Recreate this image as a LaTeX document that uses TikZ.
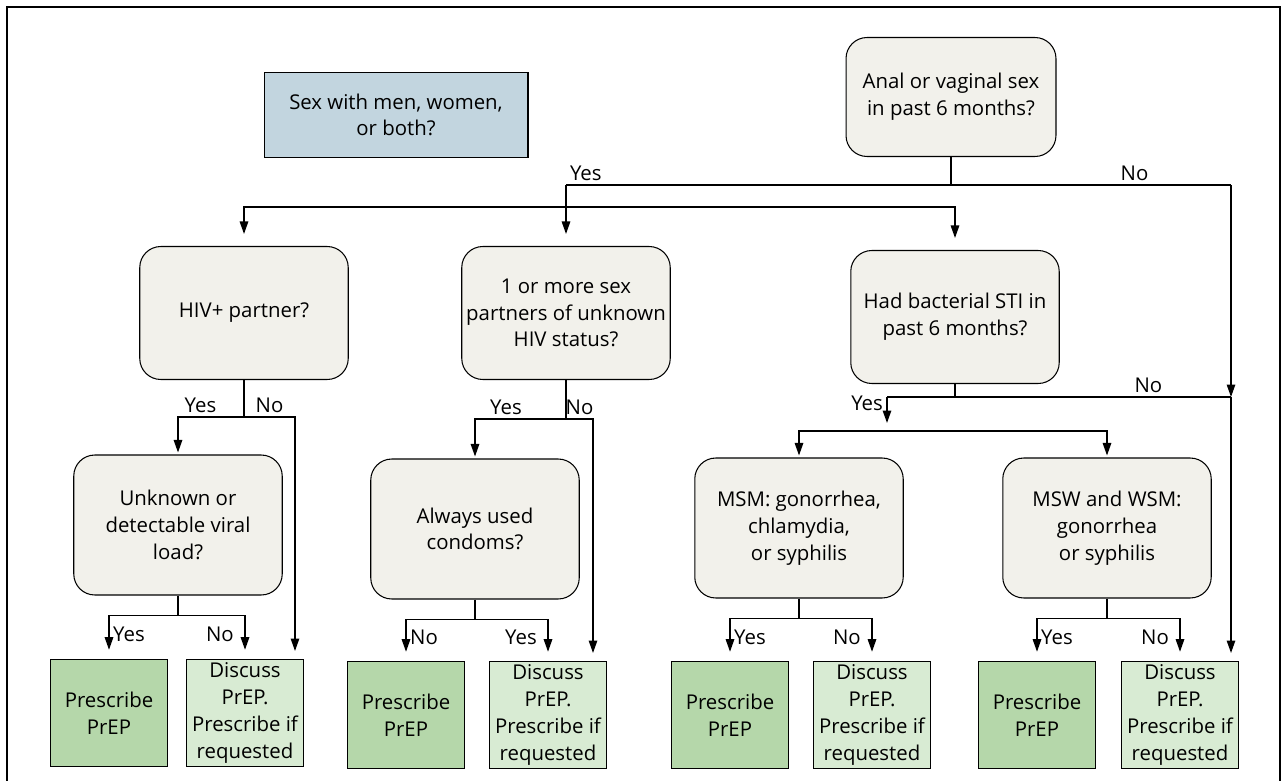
\documentclass[tikz,border=0pt]{standalone}
\usepackage{fontspec}
\setmainfont{Open Sans}
\usetikzlibrary{arrows.meta}
\definecolor{qfill}{RGB}{242,241,235}
\definecolor{sexfill}{RGB}{194,213,223}
\definecolor{rxfill}{RGB}{181,215,170}
\definecolor{talkfill}{RGB}{216,235,211}
\begin{document}
\begin{tikzpicture}[x=0.02cm, y=-0.02cm, line width=0.6pt,
        every node/.style={font=\fontsize{11.6}{15.2}\selectfont},
        question/.style={draw, fill=qfill, rounded corners=0.42cm, align=center, inner sep=0pt, minimum width=4.17cm, minimum height=2.66cm},
        tall/.style={minimum height=2.8cm},
        outcome/.style={draw, align=center, inner sep=0pt, minimum width=2.33cm, minimum height=2.15cm},
        arr/.style={line width=0.75pt, -{Triangle[length=2.5mm, width=1.7mm]}, shorten >=0.18cm},
        lbl/.style={inner sep=2pt}]
    \useasboundingbox (0,0) rectangle (1282,781);
    \draw[line width=1.1pt] (7,781) -- (7,7) -- (1280,7) -- (1280,781);
    % questions
    \node[draw, fill=sexfill, align=center, inner sep=0pt, minimum width=5.28cm, minimum height=1.7cm] (sex) at (396,115) {Sex with men, women,\\or both?};
    \node[question, minimum width=4.2cm, minimum height=2.38cm] (anal) at (951,97) {Anal or vaginal sex\\in past 6 months?};
    \node[question] (hiv) at (244,313) {HIV+ partner?};
    \node[question] (unk) at (566,313) {1 or more sex\\partners of unknown\\HIV status?};
    \node[question] (sti) at (955,317) {Had bacterial STI in\\past 6 months?};
    \node[question, tall] (load) at (178,525) {Unknown or\\detectable viral\\load?};
    \node[question, tall] (condoms) at (475,529) {Always used\\condoms?};
    \node[question, tall] (msm) at (799,528) {MSM: gonorrhea,\\chlamydia,\\or syphilis};
    \node[question, tall] (msw) at (1107,528) {MSW and WSM:\\gonorrhea\\or syphilis};
    % outcomes
    \foreach \n/\x/\y in {1/109/713,2/406/715,3/730/715,4/1037/715}
    {%
        \node[outcome, fill=rxfill] (rx\n) at (\x,\y) {Prescribe\\PrEP};
    }%
    \foreach \n/\x/\y in {1/245/713,2/548/715,3/872/715,4/1180/715}
    {%
        \node[outcome, fill=talkfill] (talk\n) at (\x,\y) {Discuss\\PrEP.\\Prescribe if\\requested};
    }%
    % top branch
    \coordinate (yesA) at (566,185);
    \coordinate (noA) at (1231,185);
    \coordinate (splitA) at (566,207);
    \coordinate (noB) at (1231,397);
    \coordinate (yesC) at (887,397);
    \coordinate (splitC) at (887,431);
    \coordinate (hivno) at (295,660);
    \coordinate (unkno) at (593,662);
    \coordinate (endD) at (1231,662);
    \draw[line width=0.75pt] (anal.south) -- (anal.south |- noA);
    \draw[line width=0.75pt] (yesA) -- (noA) node[lbl, pos=0.855, above] (noAl) {No};
    \node[lbl, anchor=south west] (yesAl) at (yesA) {Yes};
    \draw[arr, shorten >=0.24cm] (yesA) -- (unk.north);
    \draw[arr, shorten >=0.24cm] (splitA) -| (hiv.north);
    \draw[arr, shorten >=0.24cm] (splitA) -| (sti.north);
    \draw[arr, shorten >=0pt] (noA) -- (noB);
    \draw[arr] (noB) -- (endD);
    % second row
    \draw[line width=0.75pt] (hiv.south) -- ++(0,37) coordinate (hivbar);
    \draw[arr, shorten >=0.04cm] (hivbar) -| (load.north) node[lbl, pos=0.33, above] (hivyes) {Yes};
    \draw[arr] (hivbar) -| (hivno) node[lbl, pos=0.25, above] (hivnol) {No};
    \draw[line width=0.75pt] (unk.south) -- ++(0,39) coordinate (unkbar);
    \draw[arr, shorten >=0.04cm] (unkbar) -| (condoms.north) node[lbl, pos=0.33, above] (unkyes) {Yes};
    \draw[arr] (unkbar) -| (unkno) node[lbl, pos=0.25, above] (unknol) {No};
    \draw[line width=0.75pt] (sti.south) -- (sti.south |- noB);
    \draw[line width=0.75pt] (noB) -- (yesC) node[lbl, pos=0.24, above] (stino) {No};
    \draw[arr, shorten >=0.16cm] (yesC) -- (splitC) node[lbl, pos=0.2, left] (stiyes) {Yes};
    \draw[arr, shorten >=0.04cm] (splitC) -| (msm.north);
    \draw[arr, shorten >=0.04cm] (splitC) -| (msw.north);
    % last row
    \foreach \q/\n/\ta/\tb in {load/1/Yes/No, condoms/2/No/Yes, msm/3/Yes/No, msw/4/Yes/No}
    {%
        \draw[line width=0.75pt] (\q.south) -- ++(0,20) coordinate (bar\n);
        \draw[arr] (bar\n) -| (rx\n.north) node[lbl, pos=0.72, right] (la\n) {\ta};
        \draw[arr] (bar\n) -| (talk\n.north) node[lbl, pos=0.72, left, xshift=-4pt] (lb\n) {\tb};
    }%
\end{tikzpicture}
\end{document}
